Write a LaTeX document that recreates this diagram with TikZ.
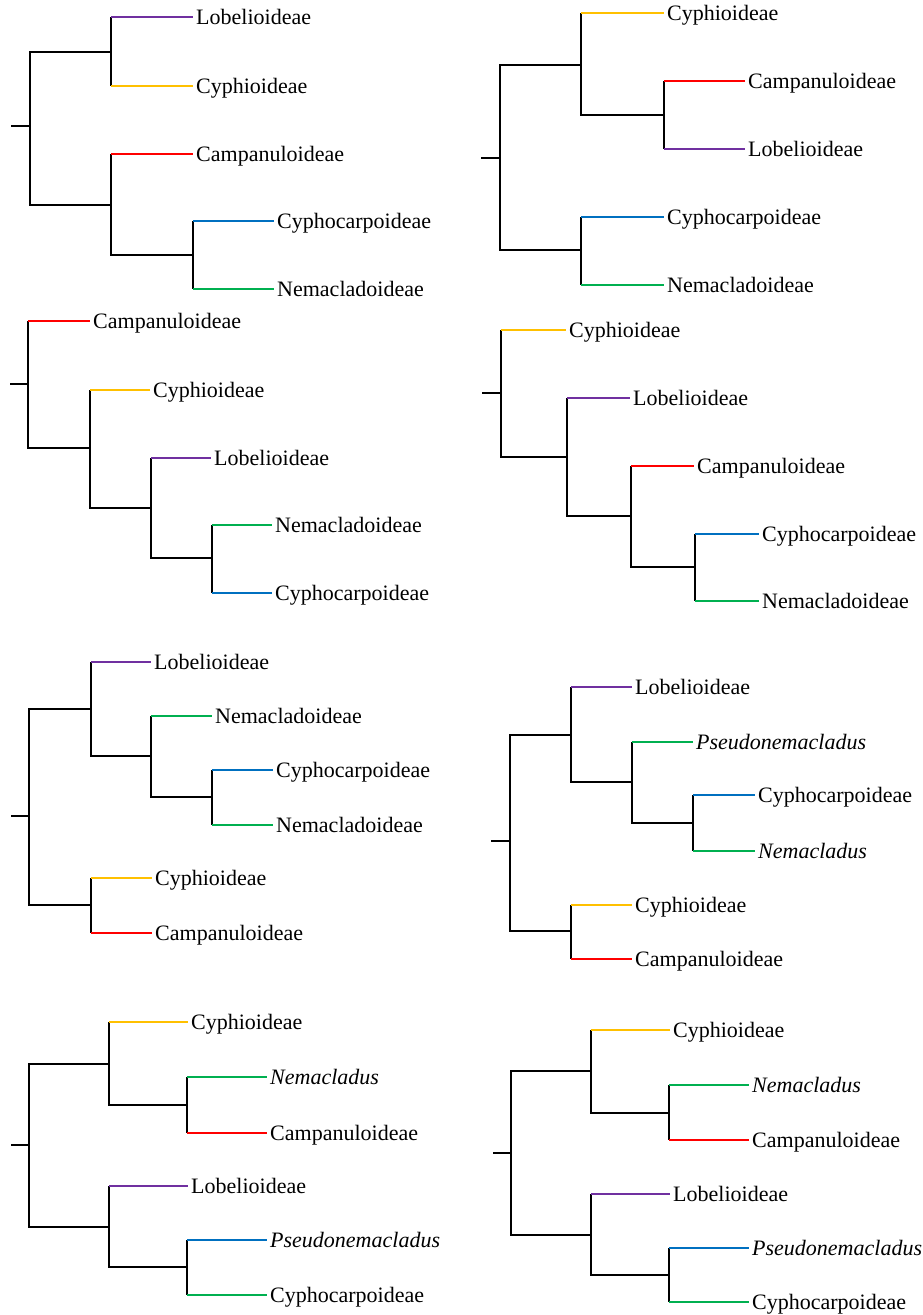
\documentclass[tikz,border=0pt]{standalone}
\usepackage{fontspec}
\setmainfont{Liberation Serif}
\definecolor{cpurple}{RGB}{112,48,160}
\definecolor{cyellow}{RGB}{255,192,0}
\definecolor{cred}{RGB}{255,0,0}
\definecolor{cblue}{RGB}{0,112,192}
\definecolor{cgreen}{RGB}{0,176,80}

\begin{document}
\begin{tikzpicture}[x=1pt,y=-1pt,
    br/.style={line width=2.8pt,line cap=square},
    tip/.style={line width=2.3pt},
    lab/.style={anchor=west,inner sep=3pt,font=\fontsize{22}{24}\selectfont,text height=16pt,text depth=2pt}]
  \useasboundingbox (0,0) rectangle (923,1315);

  % tree a
  \coordinate (as) at (11,126); \coordinate (ar) at (30,126);
  \draw[br] (as) -- (ar);
  \foreach \x/\y/\p [count=\i] in {111/52/ar, 111/205/ar, 193/255/a2} {\coordinate (a\i) at (\x,\y); \draw[br] (\p) |- (a\i);}
  \foreach \x/\y/\p/\c/\t [count=\i] in {193/17/a1/cpurple/Lobelioideae, 193/86/a1/cyellow/Cyphioideae, 193/154/a2/cred/Campanuloideae,
      274/221/a3/cblue/Cyphocarpoideae, 274/289/a3/cgreen/Nemacladoideae}
    {\node[lab] (al\i) at (\x,\y) {\t}; \draw[br] (\p) -- (\p |- al\i.west); \draw[tip,\c] (\p |- al\i.west) -- (al\i.west);}

  % tree b
  \coordinate (bs) at (481,158); \coordinate (br) at (500,158);
  \draw[br] (bs) -- (br);
  \foreach \x/\y/\p [count=\i] in {581/65/br, 664/115/b1, 581/250/br} {\coordinate (b\i) at (\x,\y); \draw[br] (\p) |- (b\i);}
  \foreach \x/\y/\p/\c/\t [count=\i] in {664/13/b1/cyellow/Cyphioideae, 745/81/b2/cred/Campanuloideae, 745/149/b2/cpurple/Lobelioideae,
      664/217/b3/cblue/Cyphocarpoideae, 664/285/b3/cgreen/Nemacladoideae}
    {\node[lab] (bl\i) at (\x,\y) {\t}; \draw[br] (\p) -- (\p |- bl\i.west); \draw[tip,\c] (\p |- bl\i.west) -- (bl\i.west);}

  % tree c
  \coordinate (cs) at (10,384); \coordinate (cr) at (28,384);
  \draw[br] (cs) -- (cr);
  \foreach \x/\y/\p [count=\i] in {90/448/cr, 151/508/c1, 212/558/c2} {\coordinate (c\i) at (\x,\y); \draw[br] (\p) |- (c\i);}
  \foreach \x/\y/\p/\c/\t [count=\i] in {90/321/cr/cred/Campanuloideae, 150/390/c1/cyellow/Cyphioideae, 211/458/c2/cpurple/Lobelioideae,
      272/525/c3/cgreen/Nemacladoideae, 272/593/c3/cblue/Cyphocarpoideae}
    {\node[lab] (cl\i) at (\x,\y) {\t}; \draw[br] (\p) -- (\p |- cl\i.west); \draw[tip,\c] (\p |- cl\i.west) -- (cl\i.west);}

  % tree d
  \coordinate (ds) at (482,393); \coordinate (dr) at (501,393);
  \draw[br] (ds) -- (dr);
  \foreach \x/\y/\p [count=\i] in {567/457/dr, 631/516/d1, 695/567/d2} {\coordinate (d\i) at (\x,\y); \draw[br] (\p) |- (d\i);}
  \foreach \x/\y/\p/\c/\t [count=\i] in {566/330/dr/cyellow/Cyphioideae, 630/398/d1/cpurple/Lobelioideae, 694/466/d2/cred/Campanuloideae,
      759/534/d3/cblue/Cyphocarpoideae, 759/601/d3/cgreen/Nemacladoideae}
    {\node[lab] (dl\i) at (\x,\y) {\t}; \draw[br] (\p) -- (\p |- dl\i.west); \draw[tip,\c] (\p |- dl\i.west) -- (dl\i.west);}

  % tree e
  \coordinate (es) at (11,816); \coordinate (er) at (29,816);
  \draw[br] (es) -- (er);
  \foreach \x/\y/\p [count=\i] in {91/709/er, 151/756/e1, 212/797/e2, 91/905/er} {\coordinate (e\i) at (\x,\y); \draw[br] (\p) |- (e\i);}
  \foreach \x/\y/\p/\c/\t [count=\i] in {151/662/e1/cpurple/Lobelioideae, 212/716/e2/cgreen/Nemacladoideae, 273/770/e3/cblue/Cyphocarpoideae,
      273/825/e3/cgreen/Nemacladoideae, 152/878/e4/cyellow/Cyphioideae, 152/933/e4/cred/Campanuloideae}
    {\node[lab] (el\i) at (\x,\y) {\t}; \draw[br] (\p) -- (\p |- el\i.west); \draw[tip,\c] (\p |- el\i.west) -- (el\i.west);}

  % tree f
  \coordinate (fs) at (491,841); \coordinate (fr) at (510,841);
  \draw[br] (fs) -- (fr);
  \foreach \x/\y/\p [count=\i] in {571/735/fr, 632/782/f1, 693/823/f2, 571/931/fr} {\coordinate (f\i) at (\x,\y); \draw[br] (\p) |- (f\i);}
  \foreach \x/\y/\p/\c/\t [count=\i] in {632/687/f1/cpurple/Lobelioideae, 693/742/f2/cgreen/\textit{Pseudonemacladus}, 755/795/f3/cblue/Cyphocarpoideae,
      755/851/f3/cgreen/\textit{Nemacladus}, 632/905/f4/cyellow/Cyphioideae, 632/959/f4/cred/Campanuloideae}
    {\node[lab] (fl\i) at (\x,\y) {\t}; \draw[br] (\p) -- (\p |- fl\i.west); \draw[tip,\c] (\p |- fl\i.west) -- (fl\i.west);}

  % tree g
  \coordinate (gs) at (11,1145); \coordinate (gr) at (29,1145);
  \draw[br] (gs) -- (gr);
  \foreach \x/\y/\p [count=\i] in {109/1064/gr, 187/1105/g1, 109/1227/gr, 187/1267/g3} {\coordinate (g\i) at (\x,\y); \draw[br] (\p) |- (g\i);}
  \foreach \x/\y/\p/\c/\t [count=\i] in {188/1022/g1/cyellow/Cyphioideae, 267/1077/g2/cgreen/\textit{Nemacladus}, 267/1133/g2/cred/Campanuloideae,
      188/1186/g3/cpurple/Lobelioideae, 267/1240/g4/cblue/\textit{Pseudonemacladus}, 267/1295/g4/cgreen/Cyphocarpoideae}
    {\node[lab] (gl\i) at (\x,\y) {\t}; \draw[br] (\p) -- (\p |- gl\i.west); \draw[tip,\c] (\p |- gl\i.west) -- (gl\i.west);}

  % tree h
  \coordinate (hs) at (493,1153); \coordinate (hr) at (511,1153);
  \draw[br] (hs) -- (hr);
  \foreach \x/\y/\p [count=\i] in {591/1071/hr, 669/1113/h1, 591/1235/hr, 669/1275/h3} {\coordinate (h\i) at (\x,\y); \draw[br] (\p) |- (h\i);}
  \foreach \x/\y/\p/\c/\t [count=\i] in {670/1030/h1/cyellow/Cyphioideae, 749/1085/h2/cgreen/\textit{Nemacladus}, 749/1140/h2/cred/Campanuloideae,
      670/1194/h3/cpurple/Lobelioideae, 749/1248/h4/cblue/\textit{Pseudonemacladus}, 749/1302/h4/cgreen/Cyphocarpoideae}
    {\node[lab] (hl\i) at (\x,\y) {\t}; \draw[br] (\p) -- (\p |- hl\i.west); \draw[tip,\c] (\p |- hl\i.west) -- (hl\i.west);}
\end{tikzpicture}
\end{document}
